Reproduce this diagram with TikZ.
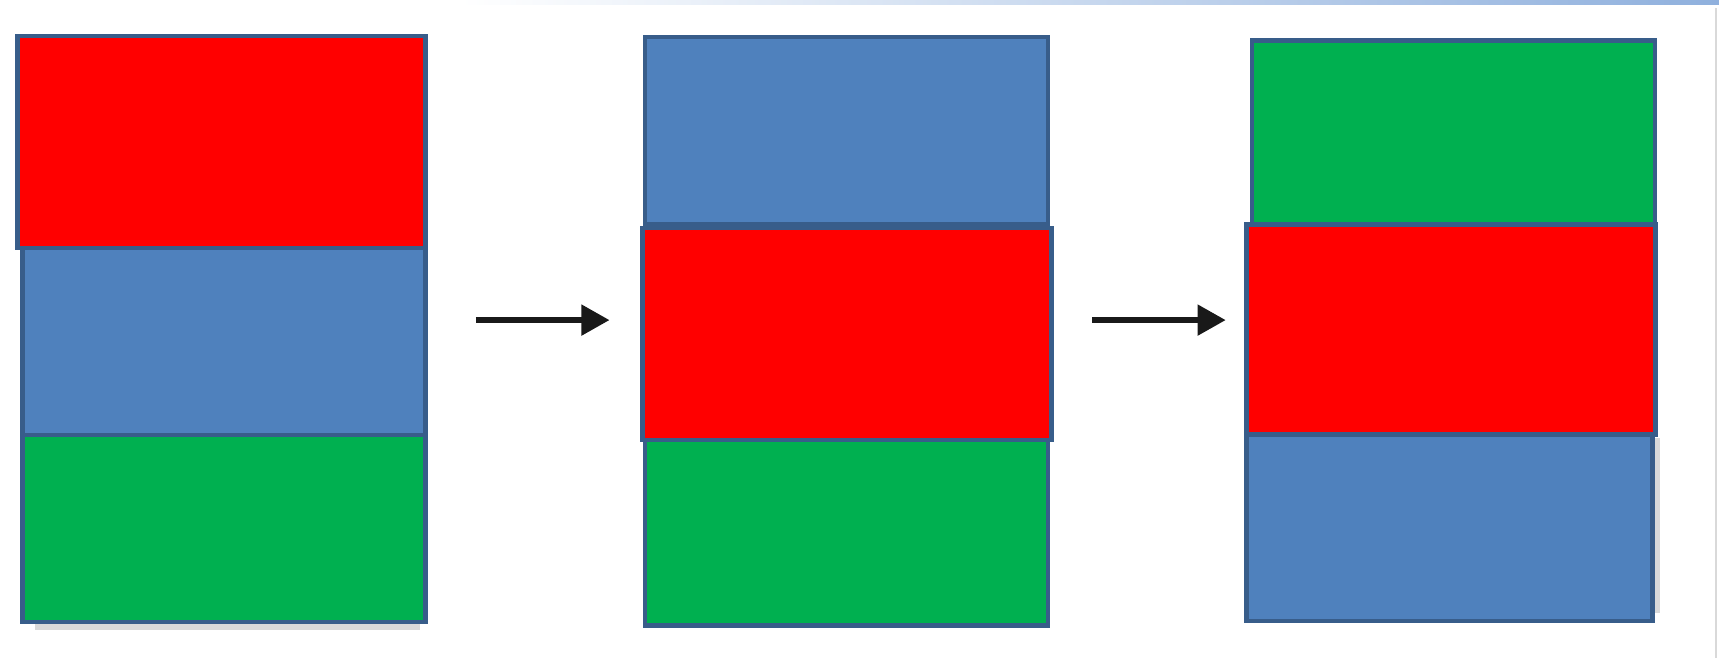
\documentclass[tikz,border=0pt]{standalone}
\usetikzlibrary{arrows.meta}
\definecolor{boxred}{HTML}{FF0000}
\definecolor{boxblue}{HTML}{4F81BD}
\definecolor{boxgreen}{HTML}{00B050}
\definecolor{boxline}{HTML}{385D8A}
\definecolor{barblue}{HTML}{8FB0DD}
\tikzset{
  block/.style={draw=boxline, line width=1.3pt, inner sep=0pt, outer sep=0pt,
    rectangle, minimum width=4.03cm, minimum height=1.87cm},
  swap/.style={-{Triangle[length=8pt,width=8.5pt]}, line width=1.6pt, black!90}
}
\begin{document}
\begin{tikzpicture}
  \useasboundingbox (0,0) rectangle (17.19,6.58);
  \shade[left color=white, right color=barblue] (4.6,6.53) rectangle (17.19,6.58);
  \draw[black!15, line width=0.5pt] (17.16,0) -- (17.16,6.5);
  % shadows
  \fill[black!15] (0.35,0.28) rectangle (4.2,0.4);
  \fill[black!15] (16.5,0.45) rectangle (16.6,2.2);
  % first stack
  \node[block, fill=boxblue] (blue1) at (2.242,3.165) {};
  \node[block, fill=boxgreen] (green1) at (2.242,1.296) {};
  \node[block, fill=boxred, minimum width=4.08cm, minimum height=2.12cm]
       (red1) at (2.2145,5.16) {};
  % second stack
  \node[block, fill=boxblue] (blue2) at (8.463,5.2755) {};
  \node[block, fill=boxgreen] (green2) at (8.463,1.2575) {};
  \node[block, fill=boxred, minimum width=4.09cm, minimum height=2.12cm]
       (red2) at (8.469,3.242) {};
  % third stack
  \node[block, fill=boxgreen] (green3) at (14.537,5.242) {};
  \node[block, fill=boxblue, minimum width=4.06cm] (blue3) at (14.493,1.307) {};
  \node[block, fill=boxred, minimum width=4.09cm, minimum height=2.1cm]
       (red3) at (14.5095,3.286) {};
  % arrows
  \coordinate (s1) at (4.758,3.379);
  \coordinate (e1) at (6.095,3.379);
  \coordinate (s2) at (10.92,3.379);
  \coordinate (e2) at (12.257,3.379);
  \draw[swap] (s1) -- (e1);
  \draw[swap] (s2) -- (e2);
\end{tikzpicture}
\end{document}
